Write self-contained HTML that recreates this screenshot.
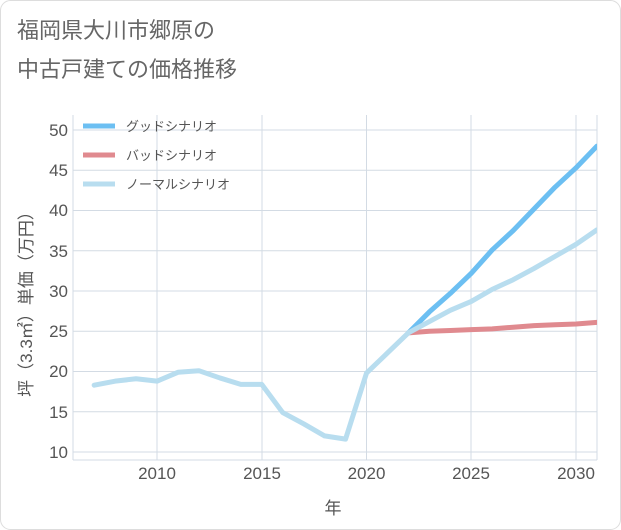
<!DOCTYPE html>
<html><head><meta charset="utf-8"><style>
body{margin:0;background:#fff;}
svg{display:block;font-family:"Liberation Sans","Noto Sans CJK JP",sans-serif;}
</style></head><body>
<svg width="621" height="530" viewBox="0 0 621 530">
<rect x="0.5" y="0.5" width="620" height="529" rx="10" fill="#fff" stroke="#ddd"/>
<text x="17" y="38" font-size="22" fill="#666">福岡県大川市郷原の</text>
<text x="17" y="77" font-size="22" fill="#666">中古戸建ての価格推移</text>
<defs><clipPath id="c"><rect x="73" y="115" width="524" height="345"/></clipPath></defs>
<g stroke="#d3dbe4" stroke-width="1">
<line x1="73" x2="597" y1="452" y2="452"/><line x1="73" x2="597" y1="411.75" y2="411.75"/>
<line x1="73" x2="597" y1="371.5" y2="371.5"/><line x1="73" x2="597" y1="331.25" y2="331.25"/>
<line x1="73" x2="597" y1="291" y2="291"/><line x1="73" x2="597" y1="250.75" y2="250.75"/>
<line x1="73" x2="597" y1="210.5" y2="210.5"/><line x1="73" x2="597" y1="170.25" y2="170.25"/>
<line x1="73" x2="597" y1="130" y2="130"/>
<line x1="157" x2="157" y1="115" y2="460"/><line x1="262" x2="262" y1="115" y2="460"/>
<line x1="366.5" x2="366.5" y1="115" y2="460"/><line x1="471" x2="471" y1="115" y2="460"/>
<line x1="576" x2="576" y1="115" y2="460"/>
<line x1="73" x2="73" y1="115" y2="460"/><line x1="597" x2="597" y1="115" y2="460"/>
<line x1="73" x2="597" y1="460" y2="460"/>
</g>
<g font-size="17" fill="#555" text-anchor="end">
<text x="68" y="458">10</text><text x="68" y="418">15</text><text x="68" y="377">20</text>
<text x="68" y="337">25</text><text x="68" y="297">30</text><text x="68" y="257">35</text>
<text x="68" y="216">40</text><text x="68" y="176">45</text><text x="68" y="136">50</text>
</g>
<g font-size="17" fill="#555" text-anchor="middle">
<text x="157" y="479">2010</text><text x="262" y="479">2015</text><text x="366.5" y="479">2020</text>
<text x="471" y="479">2025</text><text x="576" y="479">2030</text>
<text x="333" y="514">年</text>
</g>
<text transform="translate(32,300) rotate(-90)" font-size="17" fill="#555" text-anchor="middle">坪（3.3㎡）単価（万円）</text>
<g clip-path="url(#c)" fill="none" stroke-linejoin="round" stroke-linecap="round">
<g transform="translate(157,452) scale(20.95,-8.05)">
<polyline vector-effect="non-scaling-stroke" stroke="#e08a8f" stroke-width="5" points="12,14.8 13,15 14,15.1 15,15.2 16,15.3 17,15.5 18,15.7 19,15.8 20,15.9 21,16.1"/>
<polyline vector-effect="non-scaling-stroke" stroke="#6cbff2" stroke-width="5" points="12,14.8 13,17.4 14,19.7 15,22.2 16,25.1 17,27.5 18,30.2 19,32.9 20,35.3 21,38"/>
<polyline vector-effect="non-scaling-stroke" stroke="#b8ddef" stroke-width="5" points="-3,8.3 -2,8.8 -1,9.1 0,8.8 1,9.9 2,10.1 3,9.2 4,8.4 5,8.4 6,4.9 7,3.5 8,2 9,1.6 10,9.8 11,12.3 12,14.8 13,16.2 14,17.6 15,18.7 16,20.2 17,21.4 18,22.8 19,24.3 20,25.8 21,27.6"/>
</g>
</g>
<g stroke-width="5">
<line x1="83" x2="115" y1="126" y2="126" stroke="#6cbff2"/>
<line x1="83" x2="115" y1="155" y2="155" stroke="#e08a8f"/>
<line x1="83" x2="115" y1="184" y2="184" stroke="#b8ddef"/>
</g>
<g font-size="13" fill="#555">
<text x="126" y="131">グッドシナリオ</text>
<text x="126" y="160">バッドシナリオ</text>
<text x="126" y="189">ノーマルシナリオ</text>
</g>
</svg>
</body></html>
